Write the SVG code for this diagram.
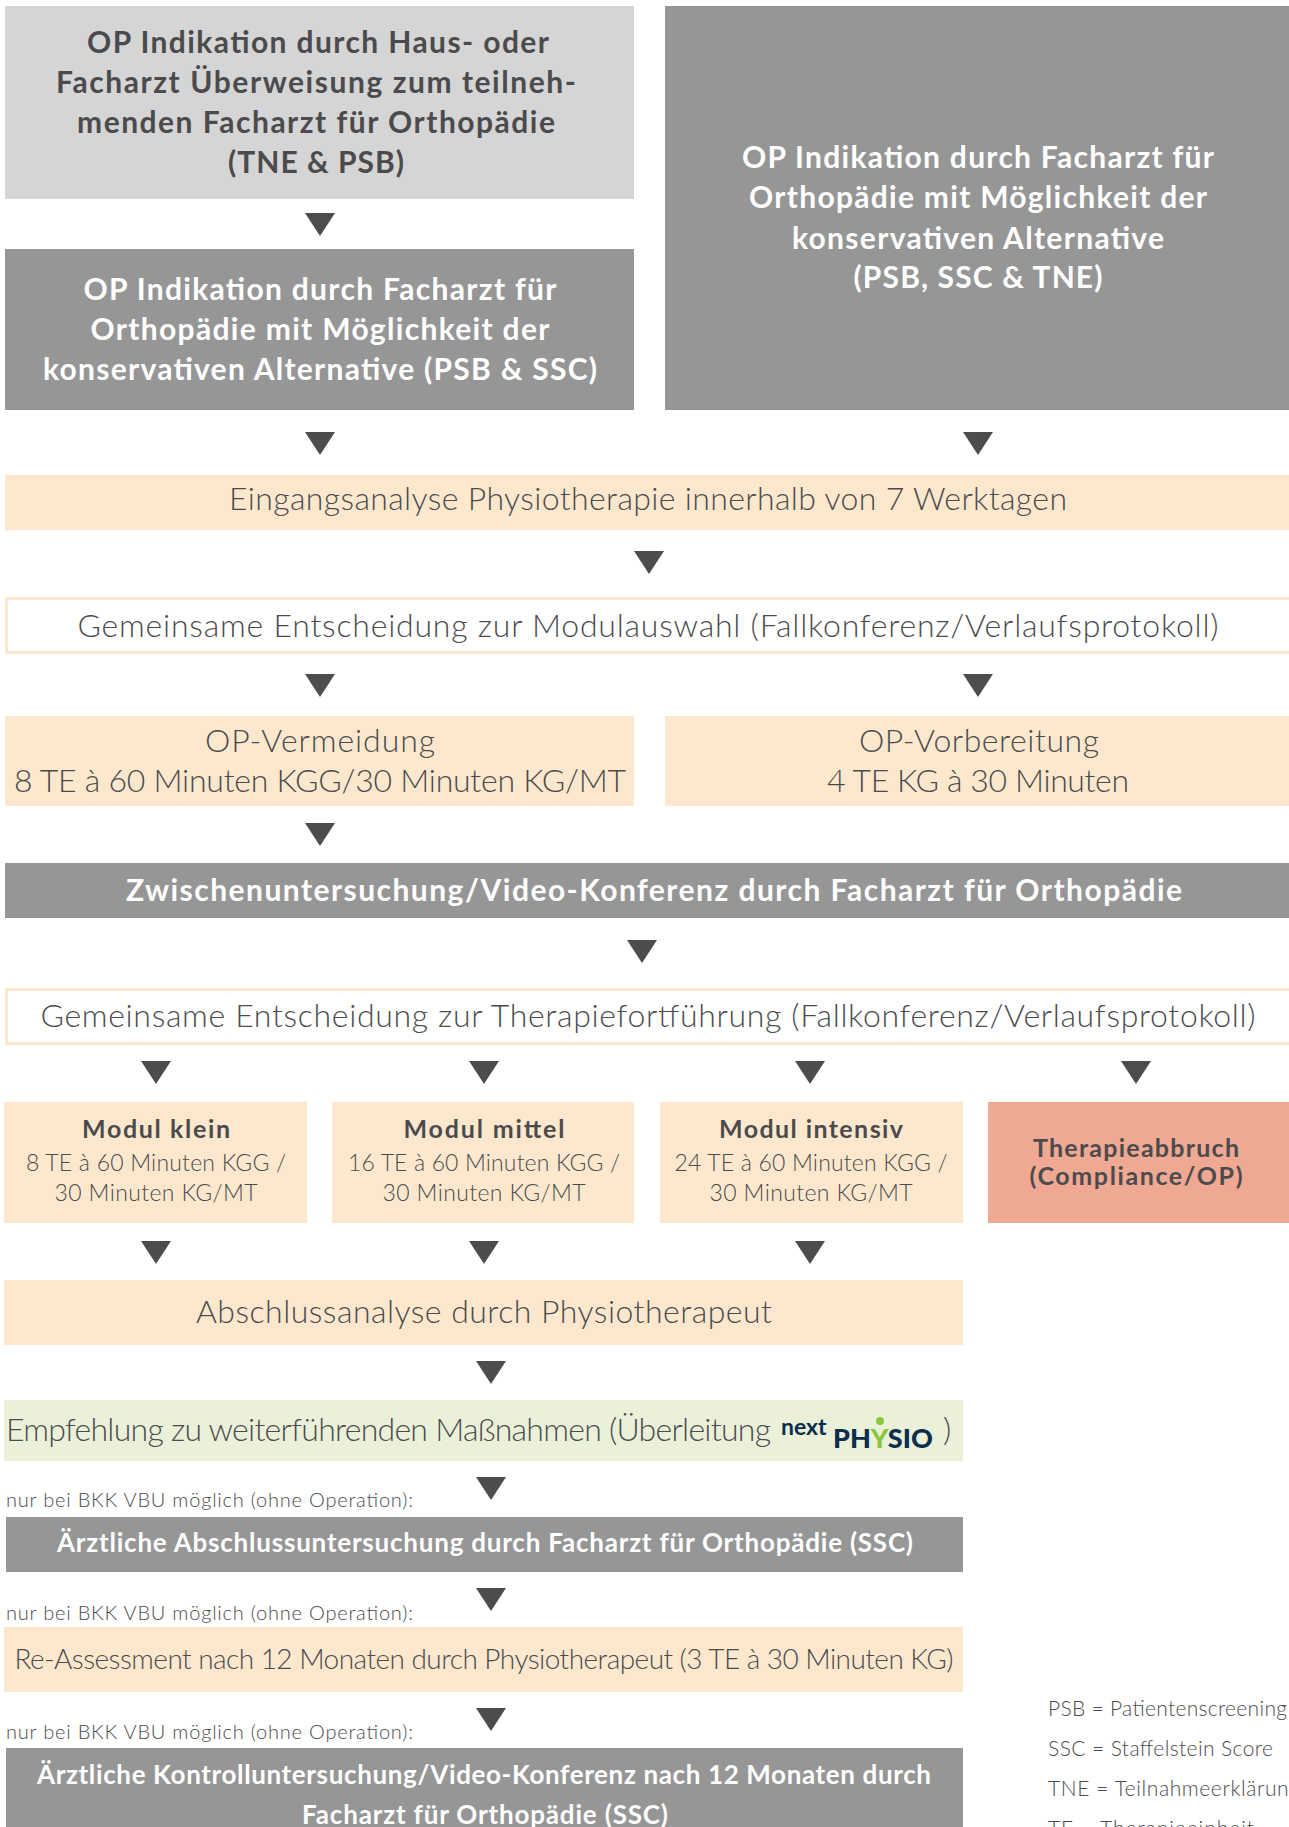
<svg xmlns="http://www.w3.org/2000/svg" width="1289" height="1827" viewBox="0 0 1289 1827">
<defs>
<style>
text{font-family:Lato,"Open Sans","Liberation Sans",sans-serif;fill:#4b4b4d;}
.c{text-anchor:middle;}
.big{font-size:32px;font-weight:300;}
.bb{font-size:30px;font-weight:700;}
.w{fill:#ffffff;}
.mb{font-size:25px;font-weight:700;}
.mr{font-size:23px;font-weight:300;}
.sm{font-size:20px;font-weight:300;}
.lg{font-size:21px;font-weight:300;}
.peach{fill:#fde8ce;}
.grey{fill:#969697;}
.lgrey{fill:#d5d5d5;}
.green{fill:#ebf1d9;}
.red{fill:#efa892;}
.outline{fill:#ffffff;stroke:#fde8ce;stroke-width:3;}
.arr{fill:#4d4d4f;}
</style>
<path id="tri" d="M-15,0 L15,0 L0,23 Z"/>
</defs>
<rect width="1289" height="1827" fill="#ffffff"/>

<g id="n1">
<rect class="lgrey" x="5" y="6" width="629" height="193"/>
<text class="bb c" x="318" y="53" textLength="462">OP Indikation durch Haus- oder</text>
<text class="bb c" x="316" y="93" textLength="520">Facharzt Überweisung zum teilneh-</text>
<text class="bb c" x="316" y="133" textLength="478">menden Facharzt für Orthopädie</text>
<text class="bb c" x="316" y="173" textLength="176">(TNE &amp; PSB)</text>
</g>

<g id="n2">
<rect class="grey" x="5" y="249" width="629" height="161"/>
<text class="bb c w" x="320" y="300" textLength="473">OP Indikation durch Facharzt für</text>
<text class="bb c w" x="320" y="340" textLength="459">Orthopädie mit Möglichkeit der</text>
<text class="bb c w" x="320" y="380" textLength="554">konservativen Alternative (PSB &amp; SSC)</text>
</g>

<g id="n3">
<rect class="grey" x="665" y="6" width="630" height="404"/>
<text class="bb c w" x="978" y="168" textLength="472">OP Indikation durch Facharzt für</text>
<text class="bb c w" x="978" y="208" textLength="458">Orthopädie mit Möglichkeit der</text>
<text class="bb c w" x="978" y="249" textLength="372">konservativen Alternative</text>
<text class="bb c w" x="978" y="288" textLength="249">(PSB, SSC &amp; TNE)</text>
</g>

<g id="n4">
<rect class="peach" x="5" y="475" width="1290" height="55"/>
<text class="big c" x="648" y="510" textLength="838">Eingangsanalyse Physiotherapie innerhalb von 7 Werktagen</text>
</g>

<g id="n5">
<rect class="outline" x="6.5" y="598.5" width="1290" height="54"/>
<text class="big c" x="648" y="637" textLength="1141">Gemeinsame Entscheidung zur Modulauswahl (Fallkonferenz/Verlaufsprotokoll)</text>
</g>

<g id="n6">
<rect class="peach" x="5" y="716" width="629" height="90"/>
<text class="big c" x="320" y="752" textLength="230">OP-Vermeidung</text>
<text class="big c" x="320" y="792" textLength="612">8 TE à 60 Minuten KGG/30 Minuten KG/MT</text>
</g>

<g id="n7">
<rect class="peach" x="665" y="716" width="630" height="90"/>
<text class="big c" x="979" y="752" textLength="240">OP-Vorbereitung</text>
<text class="big c" x="978" y="792" textLength="302">4 TE KG à 30 Minuten</text>
</g>

<g id="n8">
<rect class="grey" x="5" y="863" width="1290" height="55"/>
<text class="bb c w" x="654" y="901" textLength="1056">Zwischenuntersuchung/Video-Konferenz durch Facharzt für Orthopädie</text>
</g>

<g id="n9">
<rect class="outline" x="6.5" y="989.5" width="1290" height="54"/>
<text class="big c" x="648" y="1027" textLength="1215">Gemeinsame Entscheidung zur Therapiefortführung (Fallkonferenz/Verlaufsprotokoll)</text>
</g>

<g id="n10">
<rect class="peach" x="4" y="1102" width="303" height="121"/>
<text class="mb c" x="156" y="1138" textLength="148">Modul klein</text>
<text class="mr c" x="156" y="1171" textLength="260">8 TE à 60 Minuten KGG /</text>
<text class="mr c" x="156" y="1201" textLength="203">30 Minuten KG/MT</text>
</g>

<g id="n11">
<rect class="peach" x="332" y="1102" width="302" height="121"/>
<text class="mb c" x="484" y="1138" textLength="161">Modul mittel</text>
<text class="mr c" x="484" y="1171" textLength="272">16 TE à 60 Minuten KGG /</text>
<text class="mr c" x="484" y="1201" textLength="203">30 Minuten KG/MT</text>
</g>

<g id="n12">
<rect class="peach" x="660" y="1102" width="303" height="121"/>
<text class="mb c" x="811" y="1138" textLength="184">Modul intensiv</text>
<text class="mr c" x="811" y="1171" textLength="273">24 TE à 60 Minuten KGG /</text>
<text class="mr c" x="811" y="1201" textLength="203">30 Minuten KG/MT</text>
</g>

<g id="n13">
<rect class="red" x="988" y="1102" width="307" height="121"/>
<text class="mb c" x="1136" y="1157" textLength="206">Therapieabbruch</text>
<text class="mb c" x="1136" y="1185" textLength="213">(Compliance/OP)</text>
</g>

<g id="n14">
<rect class="peach" x="4" y="1280" width="959" height="65"/>
<text class="big c" x="484" y="1323" textLength="576">Abschlussanalyse durch Physiotherapeut</text>
</g>

<g id="n15">
<rect class="green" x="4" y="1400" width="959" height="61"/>
<text class="big" x="6" y="1441" textLength="765">Empfehlung zu weiterführenden Maßnahmen (Überleitung</text>
<text x="781" y="1448" style="font-size:27px;font-weight:900;fill:#0c2d4e"><tspan dy="-13" style="font-size:23px;font-weight:700">next</tspan><tspan x="833" dy="13">PH</tspan><tspan style="fill:#8cc63e">Y</tspan><tspan>SIO</tspan></text>
<circle cx="880" cy="1421" r="4" fill="#8cc63e"/>
<text class="big" x="943" y="1441">)</text>
</g>

<g id="n16">
<text class="sm" x="6" y="1507" textLength="407">nur bei BKK VBU möglich (ohne Operation):</text>
<rect class="grey" x="6" y="1517" width="957" height="55"/>
<text class="bb c w" x="485" y="1552" style="font-size:26px" textLength="856">Ärztliche Abschlussuntersuchung durch Facharzt für Orthopädie (SSC)</text>
</g>

<g id="n17">
<text class="sm" x="6" y="1620" textLength="407">nur bei BKK VBU möglich (ohne Operation):</text>
<rect class="peach" x="4" y="1627" width="959" height="65"/>
<text class="big c" x="484" y="1669" style="font-size:28px" textLength="939">Re-Assessment nach 12 Monaten durch Physiotherapeut (3 TE à 30 Minuten KG)</text>
</g>

<g id="n18">
<text class="sm" x="6" y="1739" textLength="407">nur bei BKK VBU möglich (ohne Operation):</text>
<rect class="grey" x="6" y="1748" width="957" height="90"/>
<text class="bb c w" x="484" y="1784" style="font-size:26px" textLength="894">Ärztliche Kontrolluntersuchung/Video-Konferenz nach 12 Monaten durch</text>
<text class="bb c w" x="485" y="1824" style="font-size:26px" textLength="366">Facharzt für Orthopädie (SSC)</text>
</g>

<g id="legend">
<text class="lg" x="1048" y="1716" textLength="239">PSB = Patientenscreening</text>
<text class="lg" x="1048" y="1756" textLength="225">SSC = Staffelstein Score</text>
<text class="lg" x="1048" y="1796" textLength="252">TNE = Teilnahmeerklärung</text>
<text class="lg" x="1048" y="1836" textLength="206">TE = Therapieeinheit</text>
</g>

<g id="connectors">
<use href="#tri" class="arr" x="320" y="213"/>
<use href="#tri" class="arr" x="320" y="432"/>
<use href="#tri" class="arr" x="978" y="432"/>
<use href="#tri" class="arr" x="649" y="551"/>
<use href="#tri" class="arr" x="320" y="674"/>
<use href="#tri" class="arr" x="978" y="674"/>
<use href="#tri" class="arr" x="320" y="823"/>
<use href="#tri" class="arr" x="642" y="940"/>
<use href="#tri" class="arr" x="156" y="1061"/>
<use href="#tri" class="arr" x="484" y="1061"/>
<use href="#tri" class="arr" x="810" y="1061"/>
<use href="#tri" class="arr" x="1136" y="1061"/>
<use href="#tri" class="arr" x="156" y="1241"/>
<use href="#tri" class="arr" x="484" y="1241"/>
<use href="#tri" class="arr" x="810" y="1241"/>
<use href="#tri" class="arr" x="491" y="1361"/>
<use href="#tri" class="arr" x="491" y="1477"/>
<use href="#tri" class="arr" x="491" y="1588"/>
<use href="#tri" class="arr" x="491" y="1708"/>
</g>
</svg>
